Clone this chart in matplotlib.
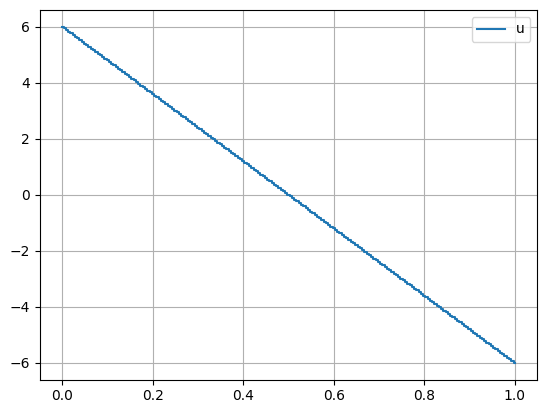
import matplotlib
matplotlib.use('Agg')
import matplotlib.pyplot as plt
import numpy as np

# grid points and solution values
x = [0.000, 0.005, 0.010, 0.015, 0.020, 0.025, 0.030, 0.035, 0.040, 0.045,
     0.050, 0.055, 0.060, 0.065, 0.070, 0.075, 0.080, 0.085, 0.090, 0.095,
     0.100, 0.105, 0.110, 0.115, 0.120, 0.125, 0.130, 0.135, 0.140, 0.145,
     0.150, 0.155, 0.160, 0.165, 0.170, 0.175, 0.180, 0.185, 0.190, 0.195,
     0.200, 0.205, 0.210, 0.215, 0.220, 0.225, 0.230, 0.235, 0.240, 0.245,
     0.250, 0.255, 0.260, 0.265, 0.270, 0.275, 0.280, 0.285, 0.290, 0.295,
     0.300, 0.305, 0.310, 0.315, 0.320, 0.325, 0.330, 0.335, 0.340, 0.345,
     0.350, 0.355, 0.360, 0.365, 0.370, 0.375, 0.380, 0.385, 0.390, 0.395,
     0.400, 0.405, 0.410, 0.415, 0.420, 0.425, 0.430, 0.435, 0.440, 0.445,
     0.450, 0.455, 0.460, 0.465, 0.470, 0.475, 0.480, 0.485, 0.490, 0.495,
     0.500, 0.505, 0.510, 0.515, 0.520, 0.525, 0.530, 0.535, 0.540, 0.545,
     0.550, 0.555, 0.560, 0.565, 0.570, 0.575, 0.580, 0.585, 0.590, 0.595,
     0.600, 0.605, 0.610, 0.615, 0.620, 0.625, 0.630, 0.635, 0.640, 0.645,
     0.650, 0.655, 0.660, 0.665, 0.670, 0.675, 0.680, 0.685, 0.690, 0.695,
     0.700, 0.705, 0.710, 0.715, 0.720, 0.725, 0.730, 0.735, 0.740, 0.745,
     0.750, 0.755, 0.760, 0.765, 0.770, 0.775, 0.780, 0.785, 0.790, 0.795,
     0.800, 0.805, 0.810, 0.815, 0.820, 0.825, 0.830, 0.835, 0.840, 0.845,
     0.850, 0.855, 0.860, 0.865, 0.870, 0.875, 0.880, 0.885, 0.890, 0.895,
     0.900, 0.905, 0.910, 0.915, 0.920, 0.925, 0.930, 0.935, 0.940, 0.945,
     0.950, 0.955, 0.960, 0.965, 0.970, 0.975, 0.980, 0.985, 0.990, 0.995,
     1.000]
u = [6.00, 5.94, 5.88, 5.82, 5.76, 5.70, 5.64, 5.58, 5.52, 5.46,
     5.40, 5.34, 5.28, 5.22, 5.16, 5.10, 5.04, 4.98, 4.92, 4.86,
     4.80, 4.74, 4.68, 4.62, 4.56, 4.50, 4.44, 4.38, 4.32, 4.26,
     4.20, 4.14, 4.08, 4.02, 3.96, 3.90, 3.84, 3.78, 3.72, 3.66,
     3.60, 3.54, 3.48, 3.42, 3.36, 3.30, 3.24, 3.18, 3.12, 3.06,
     3.00, 2.94, 2.88, 2.82, 2.76, 2.70, 2.64, 2.58, 2.52, 2.46,
     2.40, 2.34, 2.28, 2.22, 2.16, 2.10, 2.04, 1.98, 1.92, 1.86,
     1.80, 1.74, 1.68, 1.62, 1.56, 1.50, 1.44, 1.38, 1.32, 1.26,
     1.20, 1.14, 1.08, 1.02, 0.96, 0.90, 0.84, 0.78, 0.72, 0.66,
     0.60, 0.54, 0.48, 0.42, 0.36, 0.30, 0.24, 0.18, 0.12, 0.06,
     0.00, -0.06, -0.12, -0.18, -0.24, -0.30, -0.36, -0.42, -0.48, -0.54,
     -0.60, -0.66, -0.72, -0.78, -0.84, -0.90, -0.96, -1.02, -1.08, -1.14,
     -1.20, -1.26, -1.32, -1.38, -1.44, -1.50, -1.56, -1.62, -1.68, -1.74,
     -1.80, -1.86, -1.92, -1.98, -2.04, -2.10, -2.16, -2.22, -2.28, -2.34,
     -2.40, -2.46, -2.52, -2.58, -2.64, -2.70, -2.76, -2.82, -2.88, -2.94,
     -3.00, -3.06, -3.12, -3.18, -3.24, -3.30, -3.36, -3.42, -3.48, -3.54,
     -3.60, -3.66, -3.72, -3.78, -3.84, -3.90, -3.96, -4.02, -4.08, -4.14,
     -4.20, -4.26, -4.32, -4.38, -4.44, -4.50, -4.56, -4.62, -4.68, -4.74,
     -4.80, -4.86, -4.92, -4.98, -5.04, -5.10, -5.16, -5.22, -5.28, -5.34,
     -5.40, -5.46, -5.52, -5.58, -5.64, -5.70, -5.76, -5.82, -5.88, -5.94,
     -6.00]

fig, ax = plt.subplots(figsize=(5.46, 4.13), dpi=100)
fig.subplots_adjust(left=0.073, right=0.984, top=0.976, bottom=0.081)

ax.plot(x, u, drawstyle='steps-mid', label='u')
ax.grid(True)
ax.legend(loc='upper right')

fig.savefig('out.png')
